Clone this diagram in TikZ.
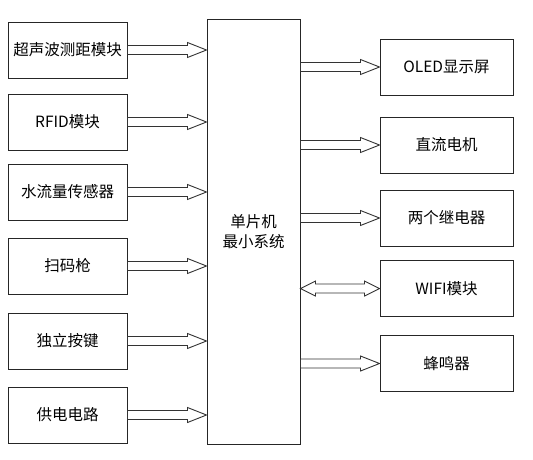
\documentclass[tikz,border=0pt]{standalone}
\usepackage{fontspec}
\setmainfont{Noto Sans CJK SC}
\usetikzlibrary{calc}
\tikzset{
  box/.style={draw=black!85, line width=1pt, fill=white, inner sep=0pt, font=\fontsize{15.5}{20}\selectfont, align=center},
  lbox/.style={box, minimum width=119pt, minimum height=56pt},
  rbox/.style={box, minimum width=133pt, minimum height=56pt},
  fat/.style={draw=black!80, line width=0.9pt, fill=white, line join=miter}
}
\newcommand\fatarrow[3]{%
  \draw[fat] let \p1=(#1.east), \p2=(#2.west), \p3=(#3.center) in
    (\x1,\y3+4.5pt) -- (\x2-19pt,\y3+4.5pt) -- (\x2-19pt,\y3+7.5pt) -- (\x2,\y3)
    -- (\x2-19pt,\y3-7.5pt) -- (\x2-19pt,\y3-4.5pt) -- (\x1,\y3-4.5pt) -- cycle;}
\newcommand\dblarrow[3]{%
  \draw[fat] let \p1=(#1.east), \p2=(#2.west), \p3=(#3.center) in
    (\x1,\y3) -- (\x1+15pt,\y3+7.5pt) -- (\x1+15pt,\y3+4.5pt) -- (\x2-15pt,\y3+4.5pt)
    -- (\x2-15pt,\y3+7.5pt) -- (\x2,\y3) -- (\x2-15pt,\y3-7.5pt) -- (\x2-15pt,\y3-4.5pt)
    -- (\x1+15pt,\y3-4.5pt) -- (\x1+15pt,\y3-7.5pt) -- cycle;}
\begin{document}
\begin{tikzpicture}[x=1pt,y=-1pt]
\useasboundingbox[fill=white] (0,0) rectangle (533,459);
% MCU
\node[box, minimum width=93pt, minimum height=425pt] (mcu) at (253.5,231.5) {单片机\\最小系统};
% left
\node[lbox] (l1) at (67.5,50) {超声波测距模块};
\node[lbox] (l2) at (67.5,122) {RFID模块};
\node[lbox] (l3) at (67.5,192) {水流量传感器};
\node[lbox] (l4) at (67.5,266) {扫码枪};
\node[lbox] (l5) at (67.5,341) {独立按键};
\node[lbox] (l6) at (67.5,415) {供电电路};
% right
\node[rbox] (r1) at (446.5,67) {OLED显示屏};
\node[rbox] (r2) at (446.5,145) {直流电机};
\node[rbox] (r3) at (446.5,218) {两个继电器};
\node[rbox] (r4) at (446.5,288.5) {WIFI模块};
\node[rbox] (r5) at (446.5,363.5) {蜂鸣器};
% arrows
\fatarrow{l1}{mcu}{l1}
\fatarrow{l2}{mcu}{l2}
\fatarrow{l3}{mcu}{l3}
\fatarrow{l4}{mcu}{l4}
\fatarrow{l5}{mcu}{l5}
\fatarrow{l6}{mcu}{l6}
\fatarrow{mcu}{r1}{r1}
\fatarrow{mcu}{r2}{r2}
\fatarrow{mcu}{r3}{r3}
\fatarrow{mcu}{r5}{r5}
\dblarrow{mcu}{r4}{r4}
\end{tikzpicture}
\end{document}
